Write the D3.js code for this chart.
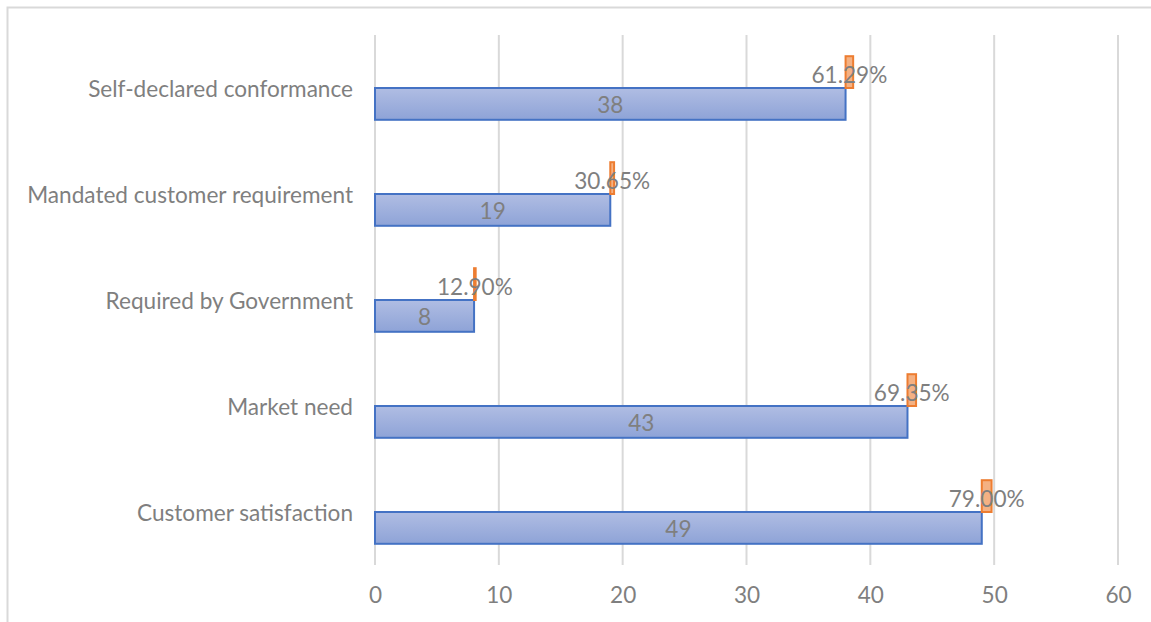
<!DOCTYPE html>
<html><head><meta charset="utf-8">
<script src="https://cdn.jsdelivr.net/npm/d3@7"></script>
<style>body{margin:0;background:#fff}svg{display:block}</style>
</head><body>
<svg id="c" width="1151" height="622"></svg>
<script>
const categories = ["Self-declared conformance","Mandated customer requirement","Required by Government","Market need","Customer satisfaction"];
const counts = [38, 19, 8, 43, 49];
const percents = [61.29, 30.65, 12.90, 69.35, 79.00];
const ticks = [0,10,20,30,40,50,60];

(function(){
const svg = d3.select("#c");
const font = "Lato, 'Open Sans', sans-serif";
const gray = "#7f7f7f";
const fs = 22.6;
const pL = 375, pR = 1118, pT = 35, pB = 565;

const x = d3.scaleLinear().domain([0,60]).range([pL,pR]);
const y = d3.scaleBand().domain(categories).range([pT,pB]).paddingInner(0.4).paddingOuter(0.2);
const sub = d3.scaleBand().domain(["pct","cnt"]).range([0,y.bandwidth()]);

const defs = svg.append("defs");
const g = defs.append("linearGradient").attr("id","bg").attr("x1",0).attr("y1",0).attr("x2",0).attr("y2",1);
g.append("stop").attr("offset","0%").attr("stop-color","#b0bde3");
g.append("stop").attr("offset","100%").attr("stop-color","#8ea3d7");

svg.append("path").attr("d","M7.5,622 V7.5 H1151").attr("fill","none").attr("stroke","#d9d9d9").attr("stroke-width",2);

svg.append("g").selectAll("line").data(ticks).join("line")
  .attr("x1",d=>x(d)).attr("x2",d=>x(d)).attr("y1",pT).attr("y2",pB)
  .attr("stroke","#d9d9d9").attr("stroke-width",2);

const xa = svg.append("g").attr("transform",`translate(0,${pB})`)
  .call(d3.axisBottom(x).tickValues(ticks).tickSize(0).tickPadding(22));
xa.select(".domain").remove();
xa.selectAll("text").attr("font-family",font).attr("font-size",fs).attr("fill",gray);

const ya = svg.append("g").attr("transform",`translate(${pL},1.5)`)
  .call(d3.axisLeft(y).tickSize(0).tickPadding(22));
ya.select(".domain").remove();
ya.selectAll("text").attr("font-family",font).attr("font-size",fs).attr("fill",gray);

const data = categories.map((c,i)=>({c, n:counts[i], p:percents[i]}));

svg.append("g").selectAll("rect").data(data).join("rect")
  .attr("x",x(0)).attr("y",d=>y(d.c)+sub("cnt"))
  .attr("width",d=>x(d.n)-x(0)).attr("height",sub.bandwidth())
  .attr("fill","url(#bg)").attr("stroke","#4472c4").attr("stroke-width",2);

svg.append("g").selectAll("rect").data(data).join("rect")
  .attr("x",d=>x(d.n)).attr("y",d=>y(d.c)+sub("pct"))
  .attr("width",d=>x(d.n + d.p/100)-x(d.n)).attr("height",sub.bandwidth())
  .attr("fill","#f4b183").attr("stroke","#ed7d31").attr("stroke-width",2);

svg.append("g").selectAll("text").data(data).join("text")
  .attr("x",d=>(x(0)+x(d.n))/2).attr("y",d=>y(d.c)+sub("cnt")+sub.bandwidth()/2+1)
  .attr("dy","0.35em").attr("text-anchor","middle")
  .attr("font-family",font).attr("font-size",fs).attr("fill",gray)
  .text(d=>d.n);

svg.append("g").selectAll("text").data(data).join("text")
  .attr("x",d=>x(d.n + d.p/200)).attr("y",d=>y(d.c)+sub("pct")+sub.bandwidth()/2+3)
  .attr("dy","0.35em").attr("text-anchor","middle")
  .attr("font-family",font).attr("font-size",fs).attr("fill",gray)
  .text(d=>d.p.toFixed(2)+"%");
})();
</script>
</body></html>
